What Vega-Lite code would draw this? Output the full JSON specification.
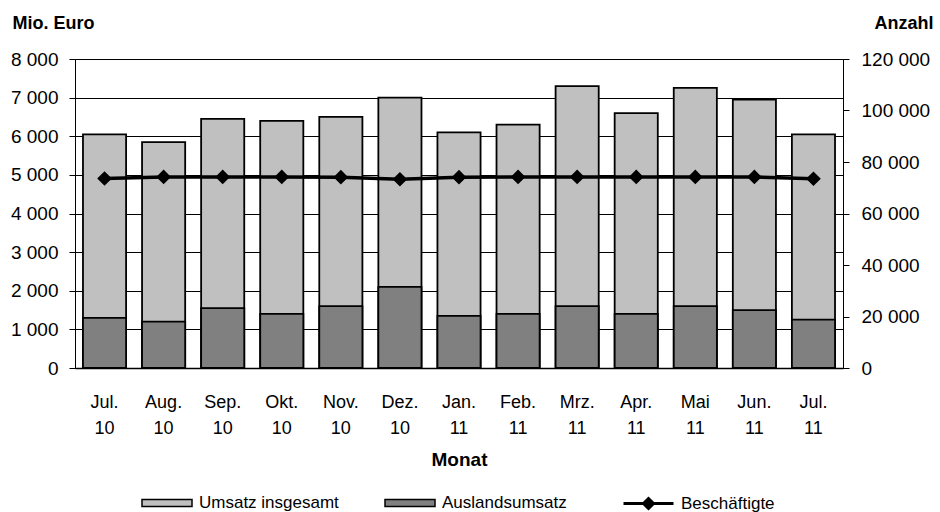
{
  "$schema": "https://vega.github.io/schema/vega-lite/v6.json",
  "width": 768,
  "height": 309,
  "autosize": {"type": "none"},
  "padding": {"left": 75, "top": 59, "right": 97, "bottom": 144},
  "background": "white",
  "config": {
    "font": "Liberation Sans",
    "view": {"stroke": "#999999", "strokeWidth": 1},
    "axis": {"labelColor": "black", "titleColor": "black", "labelFont": "Liberation Sans", "titleFont": "Liberation Sans"},
    "axisLeft": {
      "labelExpr": "replace(format(datum.value, ','), ',', ' ')",
      "labelFontSize": 19,
      "labelPadding": 11,
      "labelOverlap": false,
      "tickSize": 6,
      "tickColor": "black",
      "domainColor": "black",
      "grid": true,
      "gridColor": "black",
      "gridWidth": 1,
      "titleAngle": 0,
      "titleAlign": "left",
      "titleBaseline": "middle",
      "titleX": -63,
      "titleY": -36,
      "titleFontSize": 18,
      "titleFontWeight": "bold"
    },
    "legend": {
      "orient": "none",
      "direction": "horizontal",
      "padding": 0,
      "symbolSize": 2500,
      "symbolStrokeColor": "black",
      "symbolStrokeWidth": 1.5,
      "labelFontSize": 17,
      "labelColor": "black",
      "labelFont": "Liberation Sans",
      "labelOffset": 6,
      "labelLimit": 300,
      "legendY": 418
    }
  },
  "data": {
    "values": [
      {"Monat": "Jul. 10", "Umsatz": 6050, "Ausland": 1300, "Beschaeftigte": 73600},
      {"Monat": "Aug. 10", "Umsatz": 5850, "Ausland": 1200, "Beschaeftigte": 74200},
      {"Monat": "Sep. 10", "Umsatz": 6450, "Ausland": 1550, "Beschaeftigte": 74200},
      {"Monat": "Okt. 10", "Umsatz": 6400, "Ausland": 1400, "Beschaeftigte": 74200},
      {"Monat": "Nov. 10", "Umsatz": 6500, "Ausland": 1600, "Beschaeftigte": 74100},
      {"Monat": "Dez. 10", "Umsatz": 7000, "Ausland": 2100, "Beschaeftigte": 73300},
      {"Monat": "Jan. 11", "Umsatz": 6100, "Ausland": 1350, "Beschaeftigte": 74100},
      {"Monat": "Feb. 11", "Umsatz": 6300, "Ausland": 1400, "Beschaeftigte": 74200},
      {"Monat": "Mrz. 11", "Umsatz": 7300, "Ausland": 1600, "Beschaeftigte": 74200},
      {"Monat": "Apr. 11", "Umsatz": 6600, "Ausland": 1400, "Beschaeftigte": 74200},
      {"Monat": "Mai 11", "Umsatz": 7250, "Ausland": 1600, "Beschaeftigte": 74200},
      {"Monat": "Jun. 11", "Umsatz": 6950, "Ausland": 1500, "Beschaeftigte": 74200},
      {"Monat": "Jul. 11", "Umsatz": 6050, "Ausland": 1250, "Beschaeftigte": 73500}
    ]
  },
  "encoding": {
    "x": {
      "field": "Monat",
      "type": "nominal",
      "sort": null,
      "scale": {"paddingInner": 0.27, "paddingOuter": 0.135},
      "axis": {
        "title": "Monat",
        "labelAngle": 0,
        "labelExpr": "split(datum.label, ' ')",
        "labelFontSize": 18,
        "labelLineHeight": 26,
        "labelPadding": 25,
        "labelBaseline": "top",
        "ticks": false,
        "domainColor": "black",
        "domainWidth": 1.5,
        "titleFontSize": 19,
        "titleFontWeight": "bold",
        "titlePadding": 13
      }
    }
  },
  "layer": [
    {
      "layer": [
        {
          "mark": {"type": "bar", "stroke": "black", "strokeWidth": 1.8},
          "encoding": {
            "y": {
              "field": "Umsatz",
              "type": "quantitative",
              "scale": {"domain": [0, 8000], "nice": false},
              "axis": {"title": "Mio. Euro", "values": [0, 1000, 2000, 3000, 4000, 5000, 6000, 7000, 8000]}
            },
            "fill": {
              "datum": "Umsatz insgesamt",
              "scale": {
                "domain": ["Umsatz insgesamt", "Auslandsumsatz"],
                "range": ["#c0c0c0", "#808080"]
              },
              "legend": {
                "title": null,
                "legendX": 66,
                "columns": 2,
                "columnPadding": 43,
                "encode": {
                  "symbols": {
                    "update": {
                      "shape": {"value": "M-1,-0.14L1,-0.14L1,0.14L-1,0.14Z"},
                      "stroke": {"value": "black"},
                      "strokeWidth": {"value": 1.5}
                    }
                  }
                }
              }
            }
          }
        },
        {
          "mark": {"type": "bar", "stroke": "black", "strokeWidth": 1.8},
          "encoding": {
            "y": {
              "field": "Ausland",
              "type": "quantitative",
              "scale": {"domain": [0, 8000], "nice": false},
              "axis": {"title": "Mio. Euro", "values": [0, 1000, 2000, 3000, 4000, 5000, 6000, 7000, 8000]}
            },
            "fill": {"datum": "Auslandsumsatz"}
          }
        }
      ]
    },
    {
      "mark": {
        "type": "line",
        "strokeWidth": 3.5,
        "point": {"shape": "diamond", "size": 140, "filled": true, "fill": "black", "stroke": "black", "opacity": 1}
      },
      "encoding": {
        "y": {
          "field": "Beschaeftigte",
          "type": "quantitative",
          "scale": {"domain": [0, 120000], "nice": false},
          "axis": {
            "orient": "right",
            "title": "Anzahl",
            "values": [0, 20000, 40000, 60000, 80000, 100000, 120000],
            "labelExpr": "replace(format(datum.value, ','), ',', ' ')",
            "labelFontSize": 19,
            "labelPadding": 12,
            "labelOverlap": false,
            "tickSize": 6,
            "tickColor": "black",
            "domainColor": "black",
            "grid": false,
            "titleAngle": 0,
            "titleAlign": "right",
            "titleBaseline": "middle",
            "titleX": 90,
            "titleY": -36,
            "titleFontSize": 18,
            "titleFontWeight": "bold"
          }
        },
        "stroke": {
          "datum": "Beschäftigte",
          "scale": {"domain": ["Beschäftigte"], "range": ["black"]},
          "legend": {
            "title": null,
            "legendX": 547,
            "encode": {
              "symbols": {
                "update": {
                  "shape": {"value": "M-1,0L-0.2,0L0,-0.2L0.2,0L0,0.2L-0.2,0ZM0.2,0L1,0"},
                  "fill": {"value": "black"},
                  "stroke": {"value": "black"},
                  "strokeWidth": {"value": 3}
                }
              }
            }
          }
        }
      }
    }
  ],
  "resolve": {"scale": {"y": "independent"}}
}
